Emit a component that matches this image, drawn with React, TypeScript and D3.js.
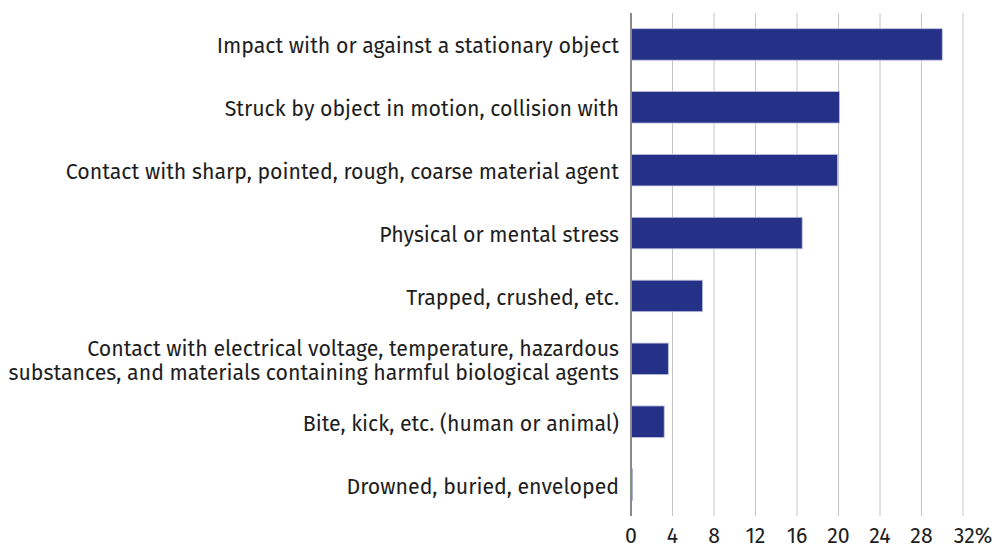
import { useEffect, useRef } from 'react'
import * as d3 from 'd3'

const categories: string[][] = [
  ['Impact with or against a stationary object'],
  ['Struck by object in motion, collision with'],
  ['Contact with sharp, pointed, rough, coarse material agent'],
  ['Physical or mental stress'],
  ['Trapped, crushed, etc.'],
  ['Contact with electrical voltage, temperature, hazardous', 'substances, and materials containing harmful biological agents'],
  ['Bite, kick, etc. (human or animal)'],
  ['Drowned, buried, enveloped'],
]
const values = [30.0, 20.1, 19.9, 16.5, 6.9, 3.6, 3.2, 0.15]
const ticks = [0, 4, 8, 12, 16, 20, 24, 28, 32]

const App = () => {
  const ref = useRef<SVGSVGElement>(null)

  useEffect(() => {
    const width = 995
    const height = 548
    const svg = d3.select(ref.current).attr('width', width).attr('height', height)
    svg.selectAll('*').remove()

    const x = d3.scaleLinear().domain([0, 32]).range([631, 963])
    const y = d3.scaleBand<number>()
                .domain(d3.range(categories.length))
                .range([13, 516])
                .paddingInner(0.5)
                .paddingOuter(0.25)

    const font = '"Fira Sans", "Noto Sans", sans-serif'
    const fontSize = 21.3

    // gridlines
    svg.append('g')
       .selectAll('line')
       .data(ticks.slice(1))
       .join('line')
       .attr('x1', d => x(d)).attr('x2', d => x(d))
       .attr('y1', 13).attr('y2', 516)
       .attr('stroke', '#c6c6c6')
       .attr('stroke-width', 1)

    // bars
    svg.append('g')
       .selectAll('rect')
       .data(values)
       .join('rect')
       .attr('x', x(0))
       .attr('y', (d, i) => y(i)!)
       .attr('width', d => x(d) - x(0))
       .attr('height', y.bandwidth())
       .attr('fill', '#253087')
       .attr('stroke', '#b9bfdc')
       .attr('stroke-width', 0.8)

    // zero axis
    svg.append('line')
       .attr('x1', x(0)).attr('x2', x(0))
       .attr('y1', 13).attr('y2', 516)
       .attr('stroke', '#8a8a8a')
       .attr('stroke-width', 2)

    // category labels
    const labels = svg.append('g')
                      .attr('font-family', font)
                      .attr('font-size', fontSize)
                      .attr('fill', '#1e1e1e')
                      .attr('text-anchor', 'end')
    categories.forEach((lines, i) => {
      const cy = y(i)! + y.bandwidth() / 2 + 1.5
      const t = labels.append('text')
                      .attr('y', cy - (lines.length - 1) * 12)
      lines.forEach((l, j) => {
        t.append('tspan')
         .attr('x', 619)
         .attr('dy', j === 0 ? '0.35em' : 24)
         .text(l)
      })
    })

    // tick labels
    svg.append('g')
       .attr('font-family', font)
       .attr('font-size', fontSize)
       .attr('fill', '#1e1e1e')
       .attr('text-anchor', 'middle')
       .selectAll('text')
       .data(ticks)
       .join('text')
       .attr('x', d => x(d) + (d === 32 ? 10 : 0))
       .attr('y', 543)
       .text(d => (d === 32 ? `${d}%` : `${d}`))
  }, [])

  return <svg ref={ref} style={{ position: 'absolute', left: 0, top: 0 }}></svg>
}

export default App
